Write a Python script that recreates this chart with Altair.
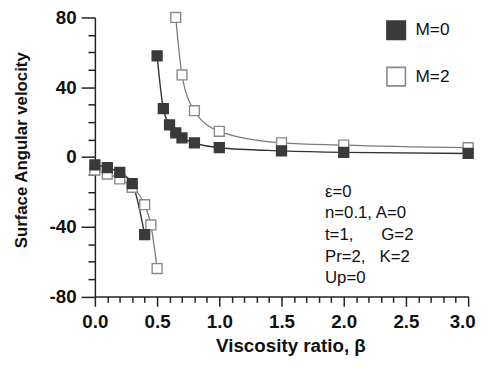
import altair as alt
import pandas as pd

# M=0 series (filled squares)
beta0 = [0.0, 0.1, 0.2, 0.3, 0.4, 0.5, 0.55, 0.6, 0.65, 0.7, 0.8, 1.0, 1.5, 2.0, 3.0]
vel0 = [-4.5, -6.2, -8.9, -15.3, -44.6, 58.0, 27.7, 18.4, 13.8, 10.9, 8.0, 5.3, 3.5, 2.6, 2.0]
seg0 = [1, 1, 1, 1, 1, 2, 2, 2, 2, 2, 2, 2, 2, 2, 2]

# M=2 series (open squares)
beta2 = [0.0, 0.1, 0.2, 0.3, 0.4, 0.45, 0.5, 0.65, 0.7, 0.8, 1.0, 1.5, 2.0, 3.0]
vel2 = [-7.5, -9.8, -12.6, -17.4, -27.4, -39.0, -64.0, 80.0, 47.0, 26.5, 14.7, 8.1, 6.8, 5.3]
seg2 = [1, 1, 1, 1, 1, 1, 1, 2, 2, 2, 2, 2, 2, 2]

series_names = ["M=0", "M=2"]

# annotation lines
note_lines = ["\u03b5=0", "n=0.1, A=0", "t=1,\u00a0\u00a0\u00a0\u00a0\u00a0\u00a0G=2",
              "Pr=2,\u00a0\u00a0\u00a0K=2", "Up=0"]
note_y = [-20.1, -32.4, -44.9, -57.2, -69.3]
note_x = 1.849

rows = []
for b, v, s in zip(beta2, vel2, seg2):
    rows.append({"beta": b, "vel": v, "M": "M=2", "key": f"M=2-{s}", "order": 0})
for b, v, s in zip(beta0, vel0, seg0):
    rows.append({"beta": b, "vel": v, "M": "M=0", "key": f"M=0-{s}", "order": 1})
df = pd.DataFrame(rows)

notes = pd.DataFrame({"txt": note_lines, "y": note_y, "x": [note_x] * len(note_lines)})

FONT = "Liberation Sans"

x_major = "abs(datum.value*2 - round(datum.value*2)) < 0.001"
x_axis = alt.Axis(
    values=[round(i * 0.1, 1) for i in range(31)],
    labelExpr=f"({x_major}) ? format(datum.value, '.1f') : ''",
    tickSize=10,
    tickDash={"condition": {"test": x_major, "value": []}, "value": [6, 30]},
    labelOffset={"condition": {"test": "datum.value > 2.95", "value": -6}, "value": 0},
    title="Viscosity ratio, \u03b2",
    grid=False, labelOverlap=False, labelFlush=False,
    labelFont=FONT, labelFontSize=19, labelFontWeight="bold", labelColor="#111",
    labelPadding=6,
    titleFont=FONT, titleFontSize=19, titleFontWeight="bold", titleColor="#111",
    titleX=198, titlePadding=6,
    domainColor="#222", domainWidth=1.5, tickColor="#222", tickWidth=1.5,
)
y_major = "datum.value % 40 === 0"
y_axis = alt.Axis(
    values=list(range(-80, 81, 10)),
    labelExpr=f"({y_major}) ? ('' + datum.value) : ''",
    tickSize=14,
    tickDash={"condition": {"test": y_major, "value": []}, "value": [7, 30]},
    title="Surface Angular velocity",
    grid=False, labelOverlap=False, labelFlush=False,
    labelFont=FONT, labelFontSize=19, labelFontWeight="bold", labelColor="#111",
    labelPadding=5,
    titleFont=FONT, titleFontSize=17, titleFontWeight="bold", titleColor="#111",
    titleY=134, titlePadding=19,
    domainColor="#222", domainWidth=1.5, tickColor="#222", tickWidth=1.5,
)

xs = alt.Scale(domain=[0, 3], nice=False, zero=False)
ys = alt.Scale(domain=[-80, 80], nice=False, zero=False)

X = alt.X("beta:Q", scale=xs, axis=x_axis)
Y = alt.Y("vel:Q", scale=ys, axis=y_axis)

base = alt.Chart(df)
line2 = base.transform_filter(alt.datum.M == "M=2").mark_line(
    interpolate="monotone", strokeWidth=1.3, color="#7a7a7a"
).encode(x=X, y=Y, detail="key:N", order="beta:Q")
line0 = base.transform_filter(alt.datum.M == "M=0").mark_line(
    interpolate="monotone", strokeWidth=1.4, color="#333333"
).encode(x=X, y=Y, detail="key:N", order="beta:Q")

legend = alt.Legend(
    orient="none", legendX=294.6, legendY=2.4, title=None, symbolType="square",
    symbolSize=350, symbolStrokeWidth=1.6, labelFont=FONT, labelFontSize=17.5,
    labelColor="#111", rowPadding=20, labelOffset=9, padding=0,
)

points = base.mark_square(size=100, strokeWidth=1.4, opacity=1).encode(
    x=X,
    y=Y,
    fill=alt.Fill("M:N", scale=alt.Scale(domain=series_names, range=["#3a3a3a", "#ffffff"]), legend=legend),
    stroke=alt.Stroke("M:N", scale=alt.Scale(domain=series_names, range=["#3a3a3a", "#8a8a8a"]), legend=legend),
    order="order:Q",
)

text = alt.Chart(notes).mark_text(align="left", baseline="middle", font=FONT, fontSize=17, color="#111").encode(
    x=alt.X("x:Q", scale=xs, axis=x_axis),
    y=alt.Y("y:Q", scale=ys, axis=y_axis),
    text="txt:N",
)

chart = alt.layer(line2, line0, points, text).properties(
    width=378, height=282.5,
    autosize=alt.AutoSizeParams(type="none"),
    padding={"left": 88, "top": 7.3, "right": 12, "bottom": 68},
    background="white",
).configure_view(stroke=None)

chart.save("out.html", embed_options={"renderer": "svg", "actions": False})
